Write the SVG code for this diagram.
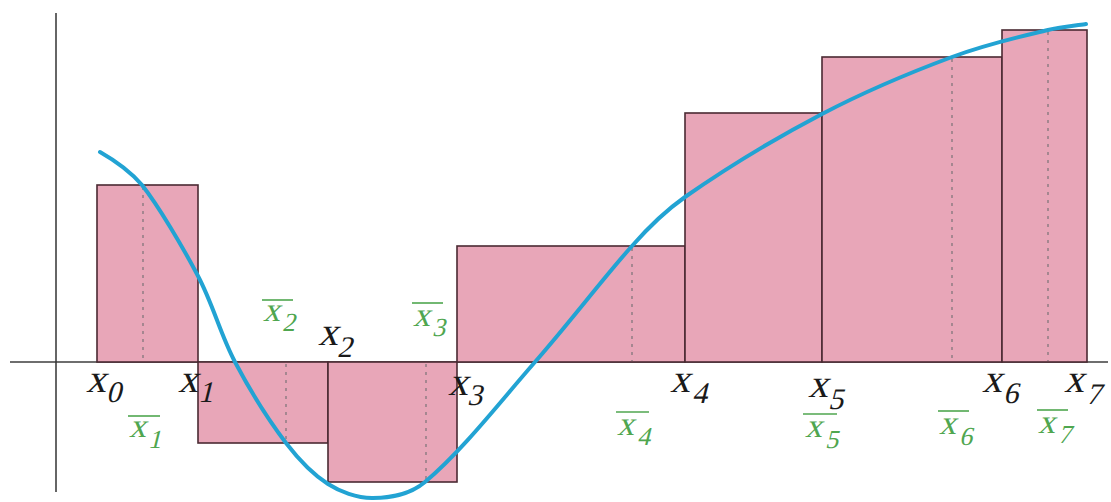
<svg xmlns="http://www.w3.org/2000/svg" width="1111" height="502" viewBox="0 0 1111 502">
<style>
.bar{fill:#E8A6B8;stroke:#4a2a32;stroke-width:1.6}
.samp{stroke:#8a7a80;stroke-width:1.4;stroke-dasharray:3 5;fill:none}
.axis{stroke:#6e6e6e;stroke-width:2;fill:none}
.vaxis{stroke:#333;stroke-width:1.5;fill:none}
.curve{stroke:#22A3D3;stroke-width:4;fill:none;stroke-linecap:round}
.lbl{fill:#1a1a1a}
.xl{font-size:40px}
.sl{font-size:30px}
.gl{fill:#4FA64F}
.gx{font-size:34px}
.gs{font-size:26px}
.ov{stroke:#4FA64F;stroke-width:1.6}
</style>
<g id="axes">
<line class="axis" x1="10" y1="362" x2="1108" y2="362"/>
<line class="vaxis" x1="56" y1="13" x2="56" y2="492"/>
</g>
<g id="bar1"><rect class="bar" x="97" y="185" width="101" height="177"/><line class="samp" x1="143" y1="187" x2="143" y2="361"/></g>
<g id="bar2"><rect class="bar" x="198" y="362" width="130" height="81"/><line class="samp" x1="286" y1="364" x2="286" y2="441"/></g>
<g id="bar3"><rect class="bar" x="328" y="362" width="129" height="120"/><line class="samp" x1="426" y1="364" x2="426" y2="480"/></g>
<g id="bar4"><rect class="bar" x="457" y="246" width="228" height="116"/><line class="samp" x1="632" y1="248" x2="632" y2="361"/></g>
<g id="bar5"><rect class="bar" x="685" y="113" width="137" height="249"/></g>
<g id="bar6"><rect class="bar" x="822" y="57" width="180" height="305"/><line class="samp" x1="952" y1="59" x2="952" y2="361"/></g>
<g id="bar7"><rect class="bar" x="1002" y="30" width="85" height="332"/><line class="samp" x1="1048" y1="32" x2="1048" y2="361"/></g>
<g id="connectors">
<path class="curve" d="M100,152 C114,160 130,171 142,185 C158.3,205.7 182.5,246.5 198,276 C213.5,305.5 220.3,334.2 235,362 C249.7,389.8 270.5,422.7 286,443 C296.9,457.2 313.5,474.8 328,484 C339.6,491.4 356.8,498.3 373,498 C389.2,497.7 408.8,495.6 425,482 C462.8,450.2 500.5,401.3 535,362 C569.5,322.7 607,273.5 632,246 C647,229 668,209 685,197 C726,168.4 777.5,137.3 822,114 C866.5,90.7 914.3,71 952,57 C989.7,43 1025.7,35.5 1048,30 C1059.2,27.2 1079.7,25 1086,24"/>
</g>
<g id="labels" font-family="Liberation Serif, Times New Roman, serif">
<text class="lbl xl" transform="translate(86,392) skewX(-14)">x</text><text class="lbl sl" transform="translate(106,402) skewX(-14)">0</text>
<text class="lbl xl" transform="translate(178,392) skewX(-14)">x</text><text class="lbl sl" transform="translate(198,402) skewX(-14)">1</text>
<text class="lbl xl" transform="translate(318,345) skewX(-14)">x</text><text class="lbl sl" transform="translate(337,357) skewX(-14)">2</text>
<text class="lbl xl" transform="translate(448,395) skewX(-14)">x</text><text class="lbl sl" transform="translate(467,405) skewX(-14)">3</text>
<text class="lbl xl" transform="translate(670,392) skewX(-14)">x</text><text class="lbl sl" transform="translate(692,403) skewX(-14)">4</text>
<text class="lbl xl" transform="translate(808,397) skewX(-14)">x</text><text class="lbl sl" transform="translate(828,409) skewX(-14)">5</text>
<text class="lbl xl" transform="translate(982,392) skewX(-14)">x</text><text class="lbl sl" transform="translate(1003,403) skewX(-14)">6</text>
<text class="lbl xl" transform="translate(1064,392) skewX(-14)">x</text><text class="lbl sl" transform="translate(1086,404) skewX(-14)">7</text>
</g>
<g id="samples" font-family="Liberation Serif, Times New Roman, serif">
<line class="ov" x1="128" y1="416" x2="160" y2="416"/><text class="gl gx" transform="translate(129,437) skewX(-14)">x</text><text class="gl gs" transform="translate(148,448) skewX(-14)">1</text>
<line class="ov" x1="262" y1="300" x2="293" y2="300"/><text class="gl gx" transform="translate(263,321) skewX(-14)">x</text><text class="gl gs" transform="translate(282,331) skewX(-14)">2</text>
<line class="ov" x1="412" y1="303" x2="443" y2="303"/><text class="gl gx" transform="translate(413,326) skewX(-14)">x</text><text class="gl gs" transform="translate(432,336) skewX(-14)">3</text>
<line class="ov" x1="616" y1="412" x2="649" y2="412"/><text class="gl gx" transform="translate(617,435) skewX(-14)">x</text><text class="gl gs" transform="translate(637,445) skewX(-14)">4</text>
<line class="ov" x1="803" y1="414" x2="837" y2="414"/><text class="gl gx" transform="translate(805,437) skewX(-14)">x</text><text class="gl gs" transform="translate(825,448) skewX(-14)">5</text>
<line class="ov" x1="938" y1="411" x2="969" y2="411"/><text class="gl gx" transform="translate(939,434) skewX(-14)">x</text><text class="gl gs" transform="translate(959,445) skewX(-14)">6</text>
<line class="ov" x1="1037" y1="410" x2="1068" y2="410"/><text class="gl gx" transform="translate(1038,433) skewX(-14)">x</text><text class="gl gs" transform="translate(1058,443) skewX(-14)">7</text>
</g>
</svg>
